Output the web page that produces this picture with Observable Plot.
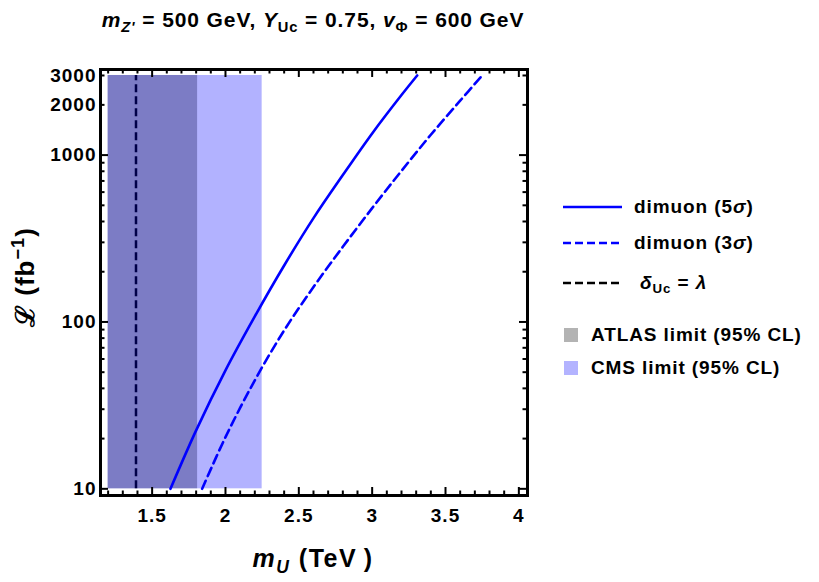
<!DOCTYPE html>
<html>
<head>
<meta charset="utf-8">
<script src="https://cdn.jsdelivr.net/npm/d3@7"></script>
<script src="https://cdn.jsdelivr.net/npm/@observablehq/plot@0.6"></script>
<style>
  body { margin: 0; background: #fff; }
  #wrap { position: relative; width: 819px; height: 582px; font-family: "Liberation Sans", Arial, sans-serif; font-weight: bold; color: #000; }
  #chart { position: absolute; left: 0; top: 0; }
  .title { position: absolute; left: 13px; width: 600px; top: 9px; text-align: center; font-size: 21px; line-height: 21px; letter-spacing: 0.9px; white-space: nowrap; }
  sub { font-size: 0.7em; line-height: 0; vertical-align: -0.32em; }
  sup { font-size: 0.7em; line-height: 0; vertical-align: 0.55em; }
  .xlabel { position: absolute; left: 113px; width: 400px; top: 546px; text-align: center; font-size: 25px; line-height: 25px; letter-spacing: 1.5px; white-space: nowrap; }
  .ylabel { position: absolute; left: 25px; top: 277px; transform: translate(-50%, -50%) rotate(-90deg); font-size: 26px; line-height: 26px; letter-spacing: 1px; white-space: nowrap; }
  .legend { position: absolute; left: 0; top: 0; font-size: 19px; letter-spacing: 0.9px; }
  .row { position: absolute; display: flex; align-items: center; height: 24px; white-space: nowrap; }
  .row svg { display: block; }
  .swatch { width: 14px; height: 14px; }
</style>
</head>
<body>
<div id="wrap">
  <div id="chart"></div>
  <div class="title"><i>m</i><sub><i>Z'</i></sub> = 500 GeV, <i>Y</i><sub>Uc</sub> = 0.75, <i>v</i><sub>Φ</sub> = 600 GeV</div>
  <div class="xlabel"><i>m</i><sub><i>U</i></sub> (TeV&#8201;)</div>
  <div class="ylabel">ℒ (fb<sup>−1</sup>)</div>
  <div class="legend" id="legend"></div>
</div>
<script>
// Dimuon reach: integrated luminosity (fb^-1) needed vs. vector-like quark mass (TeV)
const mass5sigma = [1.625, 1.8, 2.0, 2.2, 2.4, 2.6, 2.8, 3.0, 3.2, 3.307];
const lumi5sigma = [10, 22.4, 51.3, 108, 218, 419, 759, 1349, 2291, 3000];
const mass3sigma = [1.841, 2.0, 2.2, 2.4, 2.6, 2.8, 3.0, 3.2, 3.4, 3.6, 3.75];
const lumi3sigma = [10, 20.4, 44.7, 89, 162, 282, 481, 805, 1324, 2118, 3000];

// Coupling condition delta_Uc = lambda
const lambdaMass = 1.39;

// Excluded mass ranges (95% CL)
const limitNames = ["CMS", "ATLAS"];
const limitLow = [1.2, 1.2];
const limitHigh = [2.25, 1.81];
const lumiRange = [10, 3000];

// Axis ticks
const xMajor = [1.5, 2, 2.5, 3, 3.5, 4];
const xMinor = [1.2, 1.3, 1.4, 1.6, 1.7, 1.8, 1.9, 2.1, 2.2, 2.3, 2.4, 2.6, 2.7, 2.8, 2.9,
                3.1, 3.2, 3.3, 3.4, 3.6, 3.7, 3.8, 3.9];
const yMajor = [10, 100, 1000];
const yMinor = [20, 30, 40, 50, 60, 70, 80, 90, 200, 300, 400, 500, 600, 700, 800, 900, 2000, 3000];
const yLabels = [10, 100, 1000, 2000, 3000];

const toRows = (xs, ys) => xs.map((x, i) => ({x, y: ys[i]}));
const curve5 = toRows(mass5sigma, lumi5sigma);
const curve3 = toRows(mass3sigma, lumi3sigma);
const limits = limitNames.map((name, i) => ({name, lo: limitLow[i], hi: limitHigh[i]}));

const margin = {top: 69, right: 292, bottom: 87, left: 100};
const W = 819, H = 582;
const innerW = W - margin.left - margin.right;
const innerH = H - margin.top - margin.bottom;
const major = 8, minor = 4.5;

const plot = Plot.plot({
  width: W,
  height: H,
  marginTop: margin.top,
  marginRight: margin.right,
  marginBottom: margin.bottom,
  marginLeft: margin.left,
  style: {fontFamily: "'Liberation Sans', Arial, sans-serif", fontWeight: "bold", fontSize: "19px", letterSpacing: "1px", background: "white"},
  x: {domain: [1.148, 4.059]},
  y: {type: "log", domain: [9.12, 3258]},
  marks: [
    // delta_Uc = lambda line, drawn beneath the translucent limit bands
    Plot.ruleX([lambdaMass], {x: d => d, y1: lumiRange[0], y2: lumiRange[1], stroke: "black", strokeWidth: 2.5, strokeDasharray: "8,4"}),
    // CMS then ATLAS exclusion bands
    Plot.rect(limits.filter(d => d.name === "CMS"), {x1: "lo", x2: "hi", y1: () => lumiRange[0], y2: () => lumiRange[1], fill: "#0000ff", fillOpacity: 0.3}),
    Plot.rect(limits.filter(d => d.name === "ATLAS"), {x1: "lo", x2: "hi", y1: () => lumiRange[0], y2: () => lumiRange[1], fill: "#000040", fillOpacity: 0.3}),
    // dimuon significance contours
    Plot.line(curve5, {x: "x", y: "y", stroke: "#0000ff", strokeWidth: 2.6, curve: "catmull-rom"}),
    Plot.line(curve3, {x: "x", y: "y", stroke: "#0000ff", strokeWidth: 2.6, curve: "catmull-rom", strokeDasharray: "9,5"}),
    // inward frame ticks on all four sides
    Plot.tickX(xMajor, {x: d => d, insetTop: innerH - major, strokeWidth: 2}),
    Plot.tickX(xMajor, {x: d => d, insetBottom: innerH - major, strokeWidth: 2}),
    Plot.tickX(xMinor, {x: d => d, insetTop: innerH - minor, strokeWidth: 2}),
    Plot.tickX(xMinor, {x: d => d, insetBottom: innerH - minor, strokeWidth: 2}),
    Plot.tickY(yMajor, {y: d => d, insetRight: innerW - major, strokeWidth: 2}),
    Plot.tickY(yMajor, {y: d => d, insetLeft: innerW - major, strokeWidth: 2}),
    Plot.tickY(yMinor, {y: d => d, insetRight: innerW - minor, strokeWidth: 2}),
    Plot.tickY(yMinor, {y: d => d, insetLeft: innerW - minor, strokeWidth: 2}),
    Plot.frame({stroke: "black", strokeWidth: 3}),
    // tick labels
    Plot.axisX(xMajor, {tickSize: 0, tickPadding: 13, tickFormat: d => String(d), label: null, fontSize: 19, fontWeight: "bold"}),
    Plot.axisY(yLabels, {tickSize: 0, tickPadding: 4, tickFormat: d => String(d), label: null, fontSize: 19, fontWeight: "bold"})
  ]
});
document.getElementById("chart").appendChild(plot);

// Legend
const legendItems = [
  {type: "line", label: "dimuon (5<i>σ</i>)", stroke: "#0000ff", dash: null, cy: 207, x: 563, tx: 634},
  {type: "line", label: "dimuon (3<i>σ</i>)", stroke: "#0000ff", dash: "8,4", cy: 243, x: 563, tx: 634},
  {type: "line", label: "<i>δ</i><sub>Uc</sub> = <i>λ</i>", stroke: "#000000", dash: "8,4", cy: 283, x: 563, tx: 640},
  {type: "box", label: "ATLAS limit (95% CL)", fill: "#b3b3b3", cy: 335, x: 564, tx: 591},
  {type: "box", label: "CMS limit (95% CL)", fill: "#b3b3ff", cy: 368, x: 564, tx: 591}
];
const legend = document.getElementById("legend");
for (const it of legendItems) {
  const row = document.createElement("div");
  row.className = "row";
  row.style.left = it.x + "px";
  row.style.top = (it.cy - 12) + "px";
  const gap = it.tx - it.x;
  if (it.type === "line") {
    const w = 59;
    row.innerHTML = `<svg width="${w}" height="24"><line x1="0" x2="${w}" y1="12" y2="12" stroke="${it.stroke}" stroke-width="2.6" ${it.dash ? `stroke-dasharray="${it.dash}"` : ""}/></svg><span style="margin-left:${gap - w}px">${it.label}</span>`;
  } else {
    row.innerHTML = `<div class="swatch" style="background:${it.fill}"></div><span style="margin-left:${gap - 14}px">${it.label}</span>`;
  }
  legend.appendChild(row);
}
</script>
</body>
</html>
